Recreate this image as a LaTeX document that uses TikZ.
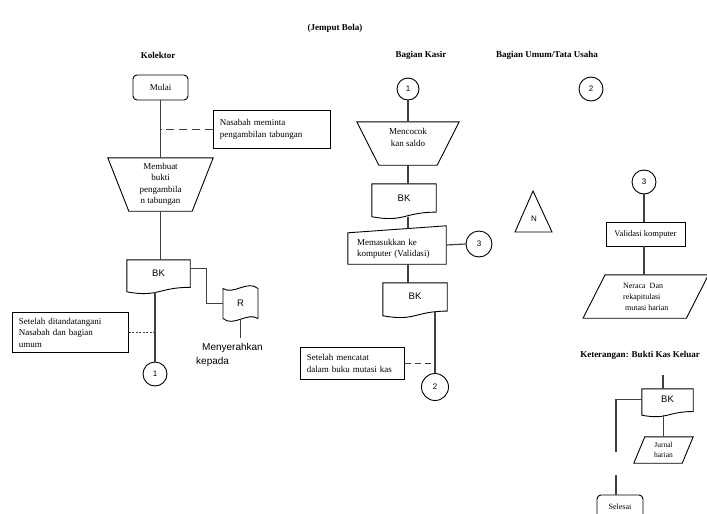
\documentclass[tikz,border=0pt]{standalone}
\usepackage{fontspec}
\setmainfont{Liberation Serif}
\newfontfamily\lblsans{Liberation Sans}
\usetikzlibrary{arrows.meta, positioning, calc}

% outline helpers drawn around plain nodes
\newcommand{\docoutline}[1]{%
  \draw[shapeline] (#1.north west) -- (#1.north east)
    -- ($(#1.north east)!0.8!(#1.south east)$)
    .. controls ($(#1.north)!0.8!(#1.south)$) and ($(#1.north)!1.1!(#1.south)$)
    .. ($(#1.north west)!0.93!(#1.south west)$) -- cycle;}
\newcommand{\trapoutline}[2]{%
  \draw[shapeline] ($(#1.north west)+(-#2,0)$) -- ($(#1.north east)+(#2,0)$)
    -- (#1.south east) -- (#1.south west) -- cycle;}
\newcommand{\paraoutline}[2]{%
  \draw[shapeline] ($(#1.north west)+(#2,0)$) -- ($(#1.north east)+(#2,0)$)
    -- ($(#1.south east)+(-#2,0)$) -- ($(#1.south west)+(-#2,0)$) -- cycle;}

\begin{document}
\begin{tikzpicture}[x=1pt, y=-1pt,
    shapeline/.style={draw=black, line width=0.9pt},
    conn/.style={draw=black!75, line width=1.2pt},
    garisputus/.style={dash pattern=on 8pt off 5pt},
    head/.style={font=\bfseries\fontsize{9}{11}\selectfont, inner sep=0pt},
    notebox/.style={rectangle, draw, line width=0.9pt, align=left, inner xsep=6.5pt,
                    inner ysep=0pt, anchor=north west, font=\fontsize{9}{12}\selectfont},
    plain/.style={rectangle, inner sep=0pt, align=center},
    terminal/.style={rectangle, rounded corners=4pt, draw, line width=0.9pt,
                     font=\fontsize{9}{11}\selectfont},
    konektor/.style={circle, draw, line width=0.9pt, inner sep=0pt, minimum size=24pt,
                     font=\lblsans\fontsize{8}{9}\selectfont},
    dokumen/.style={rectangle, inner sep=0pt, font=\lblsans\fontsize{9.5}{11}\selectfont}
  ]
  \useasboundingbox (0,0) rectangle (707,514);

  % Headings
  \node[head] (judul) at (335,28) {(Jemput Bola)};
  \node[head] (kolektor) at (158,55) {Kolektor};
  \node[head] (kasir) at (421,55) {Bagian Kasir};
  \node[head] (umum) at (547,55) {Bagian Umum/Tata Usaha};

  % Kolektor
  \node[terminal, minimum width=55pt, minimum height=25pt] (mulai) at (160.5,87.5) {Mulai};
  \node[notebox, text width=104pt, minimum height=38pt] (minta) at (213,110) {Nasabah meminta\\pengambilan tabungan};
  \node[plain, minimum width=63pt, minimum height=53pt, font=\fontsize{9}{11.5}\selectfont] (buat) at (160.5,184.5) {Membuat\\bukti\\pengambila\\n tabungan};
  \trapoutline{buat}{21}
  \node[dokumen, minimum width=63pt, minimum height=34pt, text height=16pt, text depth=18pt] (bk1) at (158.5,277) {BK};
  \docoutline{bk1}
  \node[dokumen, minimum width=35pt, minimum height=37pt] (rtape) at (240.5,303.5) {R};
  \draw[shapeline] ($(rtape)+(-17.5,-15)$) .. controls ($(rtape)+(-7,-8)$) and ($(rtape)+(7,-24)$) .. ($(rtape)+(17.5,-15)$)
    -- ($(rtape)+(17.5,15)$) .. controls ($(rtape)+(7,8)$) and ($(rtape)+(-7,24)$) .. ($(rtape)+(-17.5,15)$) -- cycle;
  \node[anchor=north west, align=left, inner sep=0pt, font=\lblsans\fontsize{10}{14}\selectfont] (serah) at (196,343) {\hspace*{6pt}Menyerahkan\\kepada};
  \node[konektor] (satuA) at (155,374) {1};
  \node[notebox, text width=103pt, minimum height=40pt, font=\fontsize{9}{11.5}\selectfont] (ttd) at (12,312) {Setelah ditandatangani\\Nasabah dan bagian\\umum};

  \draw[conn] (mulai.south) -- (buat.north);
  \draw[conn, garisputus] (minta.west) -- (minta.west -| mulai.south);
  \draw[conn] (buat.south) -- (buat.south |- bk1.north);
  \draw[conn] ($(bk1.north east)+(0,9)$) -- ++(16,0) |- (rtape.west);
  \draw[conn] ($(rtape.center)+(0,16)$) -- ++(0,18);
  \coordinate (bk1w) at ($(bk1.north)!0.93!(bk1.south)$);
  \draw[conn] (satuA.north |- bk1w) -- (satuA.north);
  \draw[conn, line width=0.8pt, dash pattern=on 2pt off 1.5pt] (ttd.east) -- (ttd.east -| satuA.north);

  % Bagian Kasir
  \node[konektor, minimum size=22pt] (satuB) at (408,89) {1};
  \node[plain, minimum width=58pt, minimum height=43pt,
        label={[plain, yshift=6pt, font=\fontsize{9}{12.5}\selectfont]center:Mencocok\\kan saldo}] (cocok) at (408,143.5) {};
  \trapoutline{cocok}{22}
  \node[dokumen, minimum width=64pt, minimum height=35pt, text height=17pt, text depth=18pt] (bk2) at (404,201.5) {BK};
  \docoutline{bk2}
  \node[plain, minimum width=98pt, minimum height=38pt,
        label={[plain, yshift=-4pt, text width=80pt, align=left, font=\fontsize{9}{11.5}\selectfont]center:Memasukkan ke\\komputer (Validasi)}] (input) at (397,245) {};
  \draw[shapeline] (input.south west) -- ($(input.north west)+(0,7)$) -- (input.north east) -- (input.south east) -- cycle;
  \node[konektor, minimum size=26pt] (tigaA) at (479,244) {3};
  \node[dokumen, minimum width=64pt, minimum height=35pt, text height=16pt, text depth=19pt] (bk3) at (415,300.5) {BK};
  \docoutline{bk3}
  \node[konektor, minimum size=27pt] (duaA) at (435,387) {2};
  \node[notebox, text width=91pt, minimum height=32pt] (catat) at (300,347) {Setelah mencatat\\dalam buku mutasi kas};

  \draw[conn] (satuB.south) -- (cocok.north);
  \draw[conn] (cocok.south) -- (cocok.south |- bk2.north);
  \coordinate (bk2w) at ($(bk2.north)!0.93!(bk2.south)$);
  \draw[conn] (satuB |- bk2w) -- ($(satuB |- input.north)+(0,3)$);
  \draw[conn] (input.east) -- (tigaA.west);
  \draw[conn] (satuB |- input.south) -- (satuB |- bk3.north);
  \path (bk3.north east) -- (bk3.south east) coordinate[pos=0.81] (bk3r);
  \draw[conn] (duaA.north |- bk3r) -- (duaA.north);
  \draw[conn, dash pattern=on 6pt off 4pt] (catat.east) -- (catat.east -| duaA.north);

  % N
  \node[inner sep=0pt, font=\lblsans\fontsize{8}{9}\selectfont] (nn) at (534,219) {N};
  \draw[shapeline] ($(nn)+(-1,-28)$) -- ($(nn)+(18,13)$) -- ($(nn)+(-19,13)$) -- cycle;

  % Bagian Umum/Tata Usaha
  \node[konektor] (duaB) at (591,89) {2};
  \node[konektor] (tigaB) at (644,182) {3};
  \node[rectangle, draw, line width=0.9pt, minimum width=79pt, minimum height=24pt, font=\fontsize{8.5}{10}\selectfont] (validasi) at (645.5,234) {Validasi komputer};
  \node[plain, minimum width=103pt, minimum height=43pt, align=left, font=\fontsize{8}{11}\selectfont] (neraca) at (645.75,296.5) {Neraca~~Dan\\rekapitulasi\\\hspace*{2pt}mutasi harian};
  \paraoutline{neraca}{11}

  \draw[conn] (tigaB.south) -- (tigaB.south |- validasi.north);
  \draw[conn] (validasi.south -| tigaB) -- (neraca.north -| tigaB);

  % Keterangan
  \node[head] (ket) at (640,355) {Keterangan: Bukti Kas Keluar};
  \coordinate (atas) at (663,375);
  \node[dokumen, minimum width=51pt, minimum height=28pt, text height=13pt, text depth=15pt] (bkk) at (667.5,403) {BK};
  \docoutline{bkk}
  \node[plain, minimum width=48pt, minimum height=26pt, font=\fontsize{7.5}{10}\selectfont] (jurnal) at (663.5,450) {Jurnal\\harian};
  \paraoutline{jurnal}{5.5}
  \coordinate (putusA) at (616,452);
  \coordinate (putusB) at (616,475);
  \node[terminal, minimum width=46pt, minimum height=24pt, font=\fontsize{8}{10}\selectfont] (selesai) at (620,507) {Selesai};

  \draw[conn] (atas) -- (atas |- bkk.north);
  \draw[conn] ($(bkk.north west)+(0,11)$) -| (putusA);
  \draw[conn] (putusB) -- (putusB |- selesai.north);
  \coordinate (bkkw) at ($(bkk.north)!0.93!(bkk.south)$);
  \draw[conn] (jurnal.north |- bkkw) -- (jurnal.north);
\end{tikzpicture}
\end{document}
